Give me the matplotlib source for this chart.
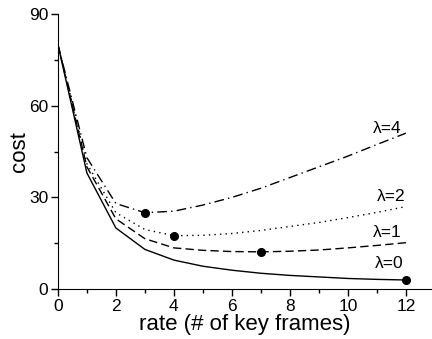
import matplotlib
matplotlib.use("Agg")
import matplotlib.pyplot as plt
from matplotlib.ticker import MultipleLocator

plt.rcParams['font.family'] = ['Liberation Sans', 'DejaVu Sans']

rate = [0, 1, 2, 3, 4, 5, 6, 7, 8, 9, 10, 11, 12]
cost_l0 = [80, 38, 20, 13, 9.5, 7.5, 6.2, 5.2, 4.5, 4.0, 3.5, 3.2, 3.0]
cost_l1 = [80, 40, 23, 16.5, 13.5, 12.7, 12.3, 12.2, 12.4, 12.8, 13.5, 14.3, 15.2]
cost_l2 = [80, 41, 25, 19.5, 17.5, 17.6, 18.2, 19.2, 20.5, 21.8, 23.4, 25.1, 27]
cost_l4 = [80, 43, 28, 25, 25.5, 27.5, 30, 33, 36.5, 40, 43.5, 47.3, 51]
labels = ['λ=0', 'λ=1', 'λ=2', 'λ=4']
min_idx = [12, 7, 4, 3]

series = [cost_l0, cost_l1, cost_l2, cost_l4]
styles = ['-', (0, (6, 3)), (0, (1, 3)), (0, (7, 3, 1, 3))]
label_pos = [(11.93, 8.5), (11.85, 18.6), (12.0, 30.4), (11.85, 52.6)]

fig = plt.figure(figsize=(4.32, 3.39), dpi=100)
ax = fig.add_axes([0.134, 0.147, 0.866, 0.812])

for ys, ls, lab, mi, (tx, ty) in zip(series, styles, labels, min_idx, label_pos):
    ax.plot(rate, ys, color='black', linestyle=ls, linewidth=1.0)
    ax.plot(rate[mi], ys[mi], 'o', color='black', markersize=5.5)
    ax.text(tx, ty, lab, ha='right', va='center', fontsize=12.5)

ax.set_xlim(0, 12.9)
ax.set_ylim(0, 90)
ax.xaxis.set_major_locator(MultipleLocator(2))
ax.xaxis.set_minor_locator(MultipleLocator(1))
ax.yaxis.set_major_locator(MultipleLocator(30))
ax.yaxis.set_minor_locator(MultipleLocator(15))
ax.tick_params(which='both', direction='out', labelsize=12.5, width=1)
ax.tick_params(which='major', length=5, pad=2)
ax.tick_params(which='minor', length=3)
ax.spines['top'].set_visible(False)
ax.spines['right'].set_visible(False)
ax.set_xlabel('rate (# of key frames)', fontsize=16, labelpad=0)
ax.set_ylabel('cost', fontsize=16, labelpad=-1)

fig.savefig('out.png', dpi=100)
